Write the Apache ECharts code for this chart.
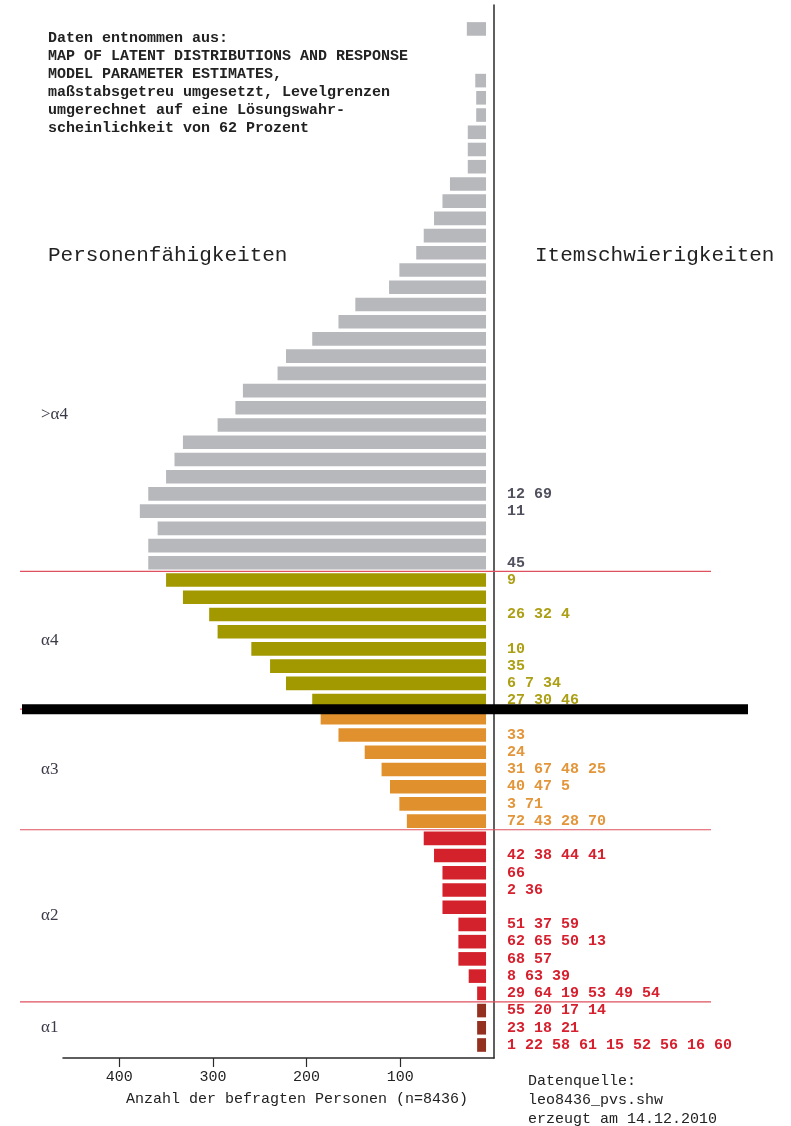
<!DOCTYPE html>
<html>
<head>
<meta charset="utf-8">
<script src="https://cdn.jsdelivr.net/npm/echarts@6/dist/echarts.min.js"></script>
<style>
html,body{margin:0;padding:0;background:#fff;}
#chart{width:791px;height:1126px;}
</style>
</head>
<body>
<div id="chart"></div>
<script>
// Rows are indexed from the bottom (0) to the top (59)
var personCounts = [
  18, 18, 18, 18, 27, 38, 38, 38, 55, 55,
  55, 64, 75, 93, 101, 111, 120, 138, 166, 185,
  194, 222, 239, 259, 295, 304, 332, 350, 369, 369,
  359, 378, 369, 350, 341, 332, 295, 276, 268, 231,
  222, 194, 166, 148, 112, 101, 83, 75, 64, 55,
  47, 28, 28, 28, 19, 19, 20, 0, 0, 29
];
var itemLabels = [
  "1 22 58 61 15 52 56 16 60", "23 18 21", "55 20 17 14", "29 64 19 53 49 54", "8 63 39",
  "68 57", "62 65 50 13", "51 37 59", "", "2 36",
  "66", "42 38 44 41", "", "72 43 28 70", "3 71",
  "40 47 5", "31 67 48 25", "24", "33", "",
  "27 30 46", "6 7 34", "35", "10", "",
  "26 32 4", "", "9", "45", "",
  "", "11", "12 69", "", "", "", "", "", "", "",
  "", "", "", "", "", "", "", "", "", "",
  "", "", "", "", "", "", "", "", "", ""
];
var levelBounds = [2.5, 12.5, 19.5, 27.5];   // boundaries between levels (row units)
var levelNames = ["\u03b11", "\u03b12", "\u03b13", "\u03b14", ">\u03b14"];
var xTicks = [100, 200, 300, 400];
var sourceNote = ["Daten entnommen aus:", "MAP OF LATENT DISTRIBUTIONS AND RESPONSE", "MODEL PARAMETER ESTIMATES,", "ma\u00dfstabsgetreu umgesetzt, Levelgrenzen", "umgerechnet auf eine L\u00f6sungswahr-", "scheinlichkeit von 62 Prozent"];
var footNote = ["Datenquelle:", "leo8436_pvs.shw", "erzeugt am 14.12.2010"];

var barColors = ["#93301f", "#d3222b", "#e0912e", "#a29800", "#b7b8bc"];
var labelColors = ["#d6202e", "#d6202e", "#e3953a", "#ac9f14", "#50505e"];
var BAR_GAP = 8.5;

function levelOf(i) {
  for (var k = 0; k < levelBounds.length; k++) if (i < levelBounds[k]) return k;
  return levelBounds.length;
}

var data = personCounts.map(function (v, i) { return [v, i]; });

var chart = echarts.init(document.getElementById('chart'), null, {renderer: 'canvas'});
var mono = '"Liberation Mono", "Courier New", monospace';

chart.setOption({
  animation: false,
  backgroundColor: '#fff',
  grid: {left: 63, right: 297, top: 5, bottom: 68, containLabel: false},
  xAxis: {
    type: 'value', inverse: true, min: 0, max: 460,
    axisLine: {show: true, onZero: false, lineStyle: {color: '#2a2a2a', width: 1.5}},
    axisTick: {show: true, length: 9, customValues: xTicks, lineStyle: {color: '#2a2a2a', width: 1.2}},
    axisLabel: {customValues: xTicks, margin: 12, fontFamily: mono, fontSize: 15, color: '#222'},
    splitLine: {show: false}
  },
  yAxis: {
    type: 'value', min: -0.755, max: 60.39, position: 'right',
    axisLine: {show: true, onZero: false, lineStyle: {color: '#2a2a2a', width: 1.5}},
    axisTick: {show: false}, axisLabel: {show: false}, splitLine: {show: false}
  },
  series: [{
    type: 'custom',
    data: data,
    encode: {x: 0, y: 1},
    renderItem: function (params, api) {
      var v = api.value(0), idx = api.value(1);
      var lvl = levelOf(idx);
      var h = api.size([0, 1])[1] * 0.79;
      var children = [];
      if (v > 0) {
        var pEnd = api.coord([v, idx]);
        var pStart = api.coord([BAR_GAP, idx]);
        children.push({
          type: 'rect',
          shape: {x: pEnd[0], y: pEnd[1] - h / 2, width: pStart[0] - pEnd[0], height: h},
          style: {fill: barColors[lvl]}
        });
      }
      var lbl = itemLabels[idx];
      if (lbl) {
        var p0 = api.coord([0, idx]);
        children.push({
          type: 'text', x: p0[0] + 13, y: p0[1],
          style: {text: lbl, fill: labelColors[lvl], fontSize: 15, fontWeight: 'bold',
                  fontFamily: mono, align: 'left', verticalAlign: 'middle'}
        });
      }
      return {type: 'group', children: children};
    }
  }]
});

// Decorations positioned through the axes' own scales
var graphics = [];
levelBounds.forEach(function (b, k) {
  var y = chart.convertToPixel({yAxisIndex: 0}, b);
  graphics.push({type: 'line', shape: {x1: 20, y1: y, x2: 711, y2: y}, style: {stroke: '#e0505e', lineWidth: 1.2}, z: 10});
  if (k === 2) {
    graphics.push({type: 'line', shape: {x1: 22, y1: y, x2: 748, y2: y}, style: {stroke: '#000', lineWidth: 10}, z: 11});
  }
});
var lo = -0.5;
levelNames.forEach(function (name, k) {
  var y;
  if (k < levelBounds.length) {
    var hi = levelBounds[k];
    y = chart.convertToPixel({yAxisIndex: 0}, (lo + hi) / 2);
    lo = hi;
  } else {
    y = 415;
  }
  graphics.push({type: 'text', x: 41, y: y, style: {text: name, fill: '#3a3a48', fontSize: 17,
    fontFamily: '"Liberation Serif", "Times New Roman", serif', verticalAlign: 'middle'}, z: 12});
});
graphics.push({type: 'text', x: 48, y: 29.5, style: {text: sourceNote.join('\n'), fill: '#222', fontSize: 15, fontWeight: 'bold',
  lineHeight: 18, fontFamily: mono, verticalAlign: 'top'}, z: 12});
graphics.push({type: 'text', x: 48, y: 255, style: {text: 'Personenf\u00e4higkeiten', fill: '#222', fontSize: 21,
  fontFamily: mono, verticalAlign: 'middle'}, z: 12});
graphics.push({type: 'text', x: 535, y: 255, style: {text: 'Itemschwierigkeiten', fill: '#222', fontSize: 21,
  fontFamily: mono, verticalAlign: 'middle'}, z: 12});
graphics.push({type: 'text', x: 297, y: 1099, style: {text: 'Anzahl der befragten Personen (n=8436)', fill: '#222', fontSize: 15,
  fontFamily: mono, align: 'center', verticalAlign: 'middle'}, z: 12});
graphics.push({type: 'text', x: 528, y: 1072, style: {text: footNote.join('\n'), fill: '#222', fontSize: 15,
  lineHeight: 19, fontFamily: mono, verticalAlign: 'top'}, z: 12});

chart.setOption({graphic: graphics});
</script>
</body>
</html>
